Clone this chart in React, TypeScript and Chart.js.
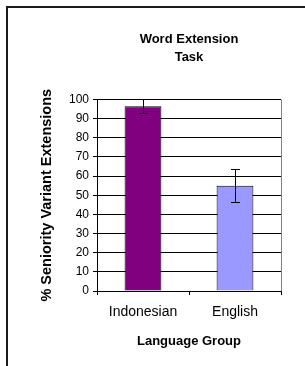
import React, { useEffect, useRef } from "react";
import { Chart, registerables } from "chart.js";

Chart.register(...registerables);

const categories = ["Indonesian", "English"];
const values = [96.5, 55];
const errors = [3.6, 8.7];
const barColors = ["#800080", "#9999FF"];
const titleLines = ["Word Extension", "Task"];
const yTitle = "% Seniority Variant Extensions";
const xTitle = "Language Group";

const FONT = "Arial, 'Liberation Sans', sans-serif";

const decorPlugin = {
  id: "decor",
  afterDatasetsDraw(chart: any) {
    const ctx = chart.ctx;
    const area = chart.chartArea;
    const ys = chart.scales.y;
    ctx.save();
    ctx.strokeStyle = "#000";
    ctx.lineWidth = 1;
    const meta = chart.getDatasetMeta(0);
    values.forEach((v, i) => {
      const bar = meta.data[i];
      const x = Math.round(bar.x) + 0.5;
      const yTop = ys.getPixelForValue(v + errors[i]);
      const yBot = ys.getPixelForValue(v - errors[i]);
      ctx.beginPath();
      ctx.moveTo(x, yTop);
      ctx.lineTo(x, yBot);
      ctx.moveTo(x - 4.5, Math.round(yTop) + 0.5);
      ctx.lineTo(x + 4.5, Math.round(yTop) + 0.5);
      ctx.moveTo(x - 4.5, Math.round(yBot) + 0.5);
      ctx.lineTo(x + 4.5, Math.round(yBot) + 0.5);
      ctx.stroke();
    });
    ctx.strokeStyle = "#808080";
    ctx.beginPath();
    ctx.moveTo(Math.round(area.right) + 0.5, area.top);
    ctx.lineTo(Math.round(area.right) + 0.5, area.bottom);
    ctx.stroke();
    ctx.strokeStyle = "#1a1a1a";
    ctx.lineWidth = 2;
    ctx.beginPath();
    ctx.moveTo(7, chart.height + 2);
    ctx.lineTo(7, 7);
    ctx.lineTo(chart.width + 2, 7);
    ctx.stroke();
    ctx.restore();
  },
};

export default function App() {
  const ref = useRef<HTMLCanvasElement | null>(null);
  useEffect(() => {
    if (!ref.current) return;
    const chart = new Chart(ref.current, {
      type: "bar",
      data: {
        labels: categories,
        datasets: [
          {
            data: values,
            backgroundColor: barColors,
            borderColor: "#000",
            borderWidth: 1,
            categoryPercentage: 1,
            barPercentage: 0.4,
          },
        ],
      },
      plugins: [decorPlugin],
      options: {
        responsive: false,
        animation: false,
        layout: { padding: { left: 0, top: 0, right: 24, bottom: 0 } },
        plugins: {
          legend: { display: false },
          tooltip: { enabled: false },
          title: {
            display: true,
            text: titleLines,
            fullSize: false,
            color: "#000",
            font: { family: FONT, size: 13, weight: "bold", lineHeight: 18 / 13 },
            padding: { top: 30, bottom: 33.5 },
          },
        },
        scales: {
          y: {
            min: 0,
            max: 100,
            afterFit(scale: any) {
              scale.width = 97;
            },
            ticks: {
              stepSize: 10,
              color: "#000",
              padding: 4,
              font: { family: FONT, size: 12 },
            },
            grid: {
              color: "#000",
              lineWidth: 1,
              drawTicks: true,
              tickLength: 4,
            },
            border: { display: true, color: "#000" },
            title: {
              display: true,
              text: yTitle,
              color: "#000",
              font: { family: FONT, size: 14.5, weight: "bold", lineHeight: 1.2 },
              padding: { top: 38.3, bottom: 0 },
            },
          },
          x: {
            afterFit(scale: any) {
              scale.height = 75;
            },
            ticks: {
              color: "#000",
              padding: 9,
              font: { family: FONT, size: 14 },
            },
            grid: {
              display: true,
              offset: true,
              drawOnChartArea: false,
              drawTicks: true,
              tickLength: 4,
              color: "#000",
            },
            border: { display: true, color: "#000" },
            title: {
              display: true,
              text: xTitle,
              color: "#000",
              font: { family: FONT, size: 13, weight: "bold", lineHeight: 1.2 },
              padding: { top: 0, bottom: 16.5 },
            },
          },
        },
      } as any,
    });
    return () => chart.destroy();
  }, []);
  return (
    <div style={{ position: "fixed", left: 0, top: 0, width: 305, height: 366, background: "#fff" }}>
      <canvas ref={ref} width={305} height={366} style={{ display: "block" }} />
    </div>
  );
}
